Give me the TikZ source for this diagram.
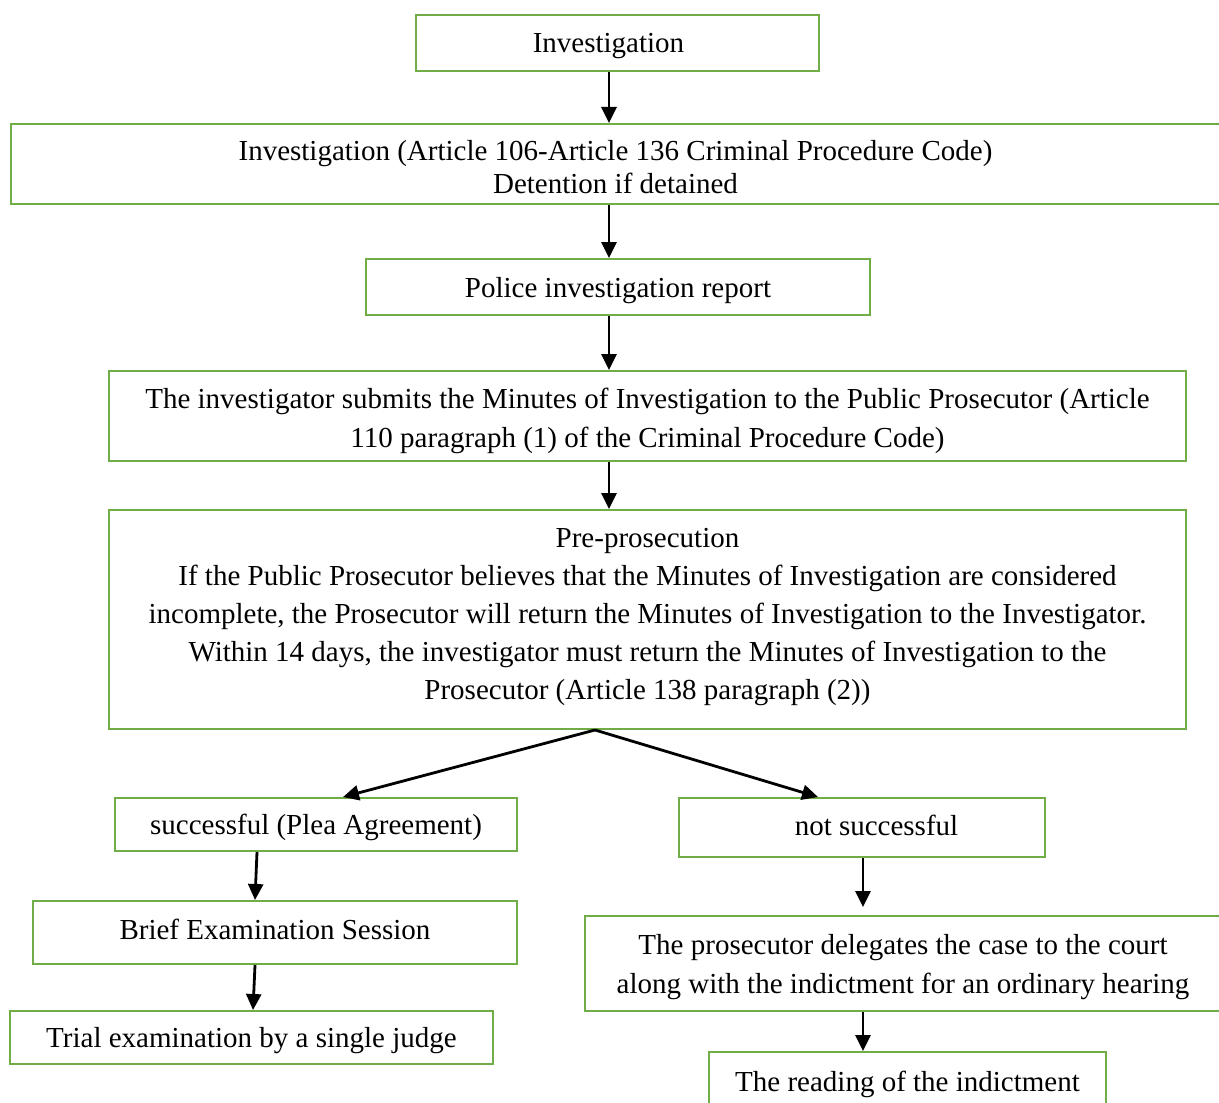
\documentclass[tikz,border=0pt]{standalone}
\usepackage{fontspec}
\setmainfont{Liberation Serif}
\usepackage{xcolor}
\usetikzlibrary{arrows.meta}
\definecolor{stagegreen}{RGB}{112,173,71}

\begin{document}
\begin{tikzpicture}[x=0.5pt,y=-0.5pt,>={Triangle[length=8pt,width=7.5pt]},
                    line width=1.4pt]
  \tikzstyle{stage}=[draw=stagegreen,line width=1pt,align=center,inner sep=0pt,
                     text depth=0pt,font=\fontsize{14.5}{19.5}\selectfont]
  \tikzstyle{flow}=[->,draw=black]

  \useasboundingbox (0,0) rectangle (1219,1102);
  \clip (0,0) rectangle (1219,1102);

  % main column
  \node[stage,minimum width=201.5pt,minimum height=28pt]   (inv)     at (617.5,43)   {Investigation\hspace*{9pt}};
  \node[stage,minimum width=605pt,minimum height=40pt,
        font=\fontsize{14.5}{16.5}\selectfont]            (art)     at (615.5,164)  {\rule{0pt}{13pt}Investigation (Article 106-Article 136 Criminal Procedure Code)\\Detention if detained};
  \node[stage,minimum width=252pt,minimum height=28pt]     (police)  at (618,287)    {Police investigation report};
  \node[stage,minimum width=538.5pt,minimum height=45pt]   (submit)  at (647.5,416)  {\rule{0pt}{12pt}The investigator submits the Minutes of Investigation to the Public Prosecutor (Article\\110 paragraph (1) of the Criminal Procedure Code)};
  \node[stage,minimum width=538.5pt,minimum height=109.5pt,text depth=5.6pt,
        font=\fontsize{14.5}{19.1}\selectfont]            (prepros) at (647.5,619.5) {Pre-prosecution\\If the Public Prosecutor believes that the Minutes of Investigation are considered\\incomplete, the Prosecutor will return the Minutes of Investigation to the Investigator.\\Within 14 days, the investigator must return the Minutes of Investigation to the\\Prosecutor (Article 138 paragraph (2))};

  % left branch
  \node[stage,minimum width=201pt,minimum height=26.5pt]   (succ)    at (316,824.5)  {successful (Plea Agreement)};
  \node[stage,minimum width=242pt,minimum height=31.5pt,text depth=3pt] (brief) at (275,932.5) {Brief Examination Session};
  \node[stage,minimum width=241.5pt,minimum height=26.5pt] (trial)   at (251.5,1037.5) {Trial examination by a single judge};

  % right branch
  \node[stage,minimum width=183pt,minimum height=29.5pt,text depth=2pt] (nosucc) at (862,827.5) {\hspace*{14.5pt}not successful};
  \node[stage,minimum width=318pt,minimum height=47.5pt]   (deleg)   at (903,963.5)  {The prosecutor delegates the case to the court\\along with the indictment for an ordinary hearing};
  \node[stage,minimum width=198.5pt,minimum height=29pt]   (reading) at (907.5,1081) {The reading of the indictment};

  \coordinate (spine) at (609,0);
  \coordinate (fork)  at (595,0);
  \coordinate (tipL)  at (343,0);
  \coordinate (tipR)  at (818,0);
  \coordinate (leftA) at (257,0);
  \coordinate (leftB) at (255,0);
  \coordinate (leftC) at (253,0);
  \coordinate (right) at (863,0);

  \draw[flow] (inv.south -| spine)     -- (art.north -| spine);
  \draw[flow] (art.south -| spine)     -- (police.north -| spine);
  \draw[flow] (police.south -| spine)  -- (submit.north -| spine);
  \draw[flow] (submit.south -| spine)  -- (prepros.north -| spine);
  \draw[flow] (prepros.south -| fork)  -- (succ.north -| tipL);
  \draw[flow] (prepros.south -| fork)  -- (nosucc.north -| tipR);
  \draw[flow] (succ.south -| leftA)    -- (brief.north -| leftB);
  \draw[flow] (brief.south -| leftB)   -- (trial.north -| leftC);
  \draw[flow,shorten >=4pt] (nosucc.south -| right) -- (deleg.north -| right);
  \draw[flow] (deleg.south -| right)   -- (reading.north -| right);
\end{tikzpicture}
\end{document}
